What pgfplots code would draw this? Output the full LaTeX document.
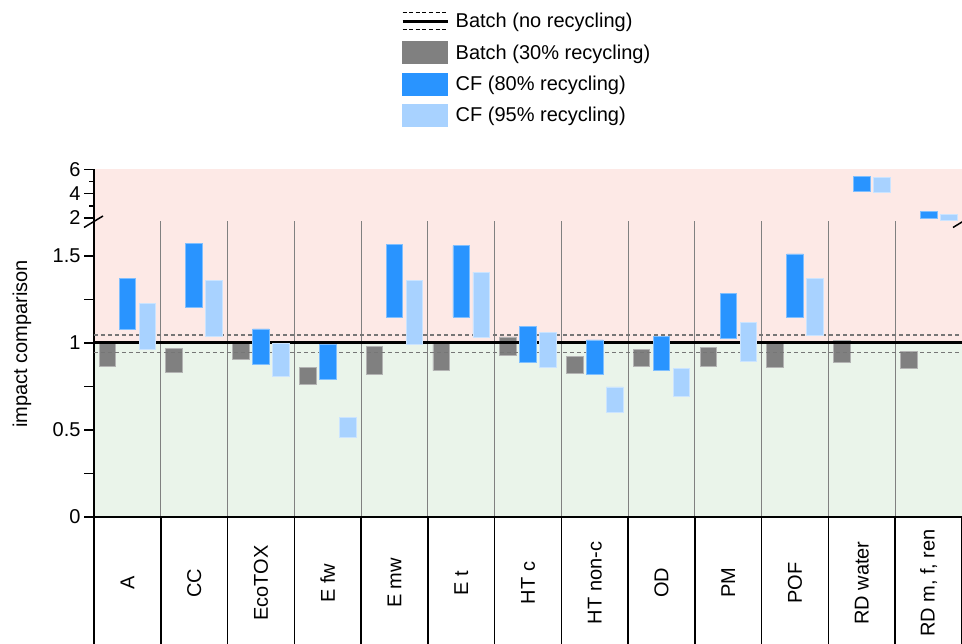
\documentclass[border=0pt]{standalone}
\usepackage{pgfplots}
\pgfplotsset{compat=1.18}
\usepackage{pgfplotstable}
\usepackage{fontspec}
\setmainfont{Liberation Sans}
\definecolor{cgray}{RGB}{128,128,128}
\definecolor{cdash}{RGB}{118,118,118}
\definecolor{cblue}{RGB}{41,148,255}
\definecolor{clight}{RGB}{168,210,255}
\definecolor{bgred}{RGB}{253,233,230}
\definecolor{bggreen}{RGB}{234,244,234}
\newcommand{\fs}{\fontsize{20}{23}\selectfont}

\pgfplotstableread{
x lo hi
0 0.866 0.995
1 0.829 0.967
2 0.906 1.010
3 0.759 0.858
4 0.818 0.979
5 0.841 0.998
6 0.929 1.034
7 0.824 0.921
8 0.864 0.962
9 0.864 0.975
10 0.858 1.000
11 0.887 1.015
12 0.856 0.950
}\graydata
\pgfplotstableread{
x lo hi
0 1.075 1.372
1 1.201 1.573
2 0.877 1.080
3 0.791 0.990
4 1.149 1.565
5 1.149 1.559
6 0.887 1.092
7 0.820 1.017
8 0.843 1.038
9 1.025 1.282
10 1.148 1.511
}\bluedata
\pgfplotstableread{
x lo hi
0 0.964 1.228
1 1.036 1.356
2 0.810 0.998
3 0.456 0.571
4 0.994 1.356
5 1.034 1.406
6 0.860 1.059
7 0.602 0.747
8 0.694 0.854
9 0.891 1.117
10 1.042 1.372
}\lightdata
\pgfplotstableread{
x lo hi
11 4.22 5.39
12 2.00 2.53
}\blueup
\pgfplotstableread{
x lo hi
11 4.14 5.31
12 1.83 2.31
}\lightup

\pgfplotsset{
  geom/.style={
    scale only axis, width=868pt, xmin=-0.5, xmax=12.5,
    ybar stacked, bar width=16.6pt, anchor=south west,
  },
  lowergeom/.style={geom, at={(0pt,0pt)}, height=296pt, ymin=0, ymax=1.70},
  uppergeom/.style={geom, at={(0pt,296pt)}, height=51.5pt, ymin=1.75, ymax=6},
  base/.style={
    /pgf/number format/assume math mode=true,
    tick label style={font=\fs},
    tick align=outside,
    major tick length=10pt,
    every tick/.style={black, line width=1.5pt},
    xtick style={draw=none},
    minor xtick={0.5,1.5,...,11.5},
    minor x tick style={draw=none},
    xminorgrids,
    minor grid style={draw=cgray, line width=0.9pt},
    axis line style={-, black, line width=1.6pt},
  },
  inv/.style={draw=none, fill=none, forget plot},
  gbar/.style={fill=cgray, draw=cgray!60!white, line width=0.8pt, bar shift=-20pt, forget plot},
  bbar/.style={fill=cblue, draw=cblue!60!white, line width=0.8pt, bar shift=0pt, forget plot},
  lbar/.style={fill=clight, draw=clight!60!white, line width=0.8pt, bar shift=20pt, forget plot},
}

\begin{document}
\begin{tikzpicture}
\useasboundingbox (-94pt,-127pt) rectangle (868pt,517pt);
% ---------- lower panel: frame + batch 30%
\begin{axis}[lowergeom, base,
  ytick={0,0.5,1,1.5},
  minor ytick={0.25,0.75,1.25},
  minor tick length=10pt,
  axis x line*=bottom, axis y line*=left,
  xtick={0,...,12},
  xticklabels={A,CC,EcoTOX,E fw,E mw,E t,HT c,HT non-c,OD,PM,POF,RD water,{RD m, f, ren}},
  xticklabel style={yshift=-56pt, rotate=90, anchor=center, font=\fs},
  ylabel={impact comparison},
  ylabel style={at={(axis description cs:-0.0829,0.5845)}, anchor=center, font=\fs},
  axis background/.style={fill=bgred, path picture={
     \fill[bggreen] (path picture bounding box.south west) rectangle
        ([yshift=174.12pt]path picture bounding box.south east);}},
]
\draw[cdash, dash pattern=on 4pt off 3pt, line width=1.1pt] (axis cs:-0.5,1.045) -- (axis cs:12.5,1.045);
\draw[cdash, dash pattern=on 4pt off 3pt, line width=1.1pt] (axis cs:-0.5,0.947) -- (axis cs:12.5,0.947);
\draw[black, line width=3.2pt] (axis cs:-0.5,1) -- (axis cs:12.5,1);
\addplot[inv, bar shift=-20pt] table[x=x, y=lo]{\graydata};
\addplot[gbar] table[x=x, y expr=\thisrow{hi}-\thisrow{lo}]{\graydata};
\end{axis}
% ---------- lower panel: CF 80%
\begin{axis}[lowergeom, hide axis]
\addplot[inv, bar shift=0pt] table[x=x, y=lo]{\bluedata};
\addplot[bbar] table[x=x, y expr=\thisrow{hi}-\thisrow{lo}]{\bluedata};
\end{axis}
% ---------- lower panel: CF 95%
\begin{axis}[lowergeom, hide axis]
\addplot[inv, bar shift=20pt] table[x=x, y=lo]{\lightdata};
\addplot[lbar] table[x=x, y expr=\thisrow{hi}-\thisrow{lo}]{\lightdata};
\end{axis}

% ---------- upper panel: frame + CF 80%
\begin{axis}[uppergeom, base,
  ytick={2,4,6},
  minor ytick={3,5},
  minor tick length=5pt,
  axis x line=none, axis y line*=left,
  xtick=\empty,
  axis background/.style={fill=bgred},
  legend cell align=left,
  legend style={at={(axis description cs:0.3537,4.091)}, anchor=north west,
    draw=none, fill=none, inner sep=0pt, outer sep=0pt,
    font=\fs, row sep=9pt,
    nodes={inner xsep=6.7pt, inner ysep=0pt}},
]
\addplot[inv, bar shift=0pt] table[x=x, y=lo]{\blueup};
\addplot[bbar] table[x=x, y expr=\thisrow{hi}-\thisrow{lo}]{\blueup};

\addlegendimage{legend image code/.code={
  \path[draw=none, fill=none] (0pt,-11pt) rectangle (45pt,11pt);
  \draw[black, line width=3pt] (0pt,0pt) -- (45pt,0pt);
  \draw[black, line width=1pt, dash pattern=on 4pt off 2.6pt] (0pt,8.5pt) -- (45pt,8.5pt);
  \draw[black, line width=1pt, dash pattern=on 4pt off 2.6pt] (0pt,-8.5pt) -- (45pt,-8.5pt);}}
\addlegendentry{Batch (no recycling)}
\addlegendimage{legend image code/.code={\fill[cgray] (0pt,-11pt) rectangle (45pt,11pt);}}
\addlegendentry{Batch (30\% recycling)}
\addlegendimage{legend image code/.code={\fill[cblue] (0pt,-11pt) rectangle (45pt,11pt);}}
\addlegendentry{CF (80\% recycling)}
\addlegendimage{legend image code/.code={\fill[clight] (0pt,-11pt) rectangle (45pt,11pt);}}
\addlegendentry{CF (95\% recycling)}
\end{axis}
% ---------- upper panel: CF 95%
\begin{axis}[uppergeom, hide axis]
\addplot[inv, bar shift=20pt] table[x=x, y=lo]{\lightup};
\addplot[lbar] table[x=x, y expr=\thisrow{hi}-\thisrow{lo}]{\lightup};
\end{axis}

% category table lines
\foreach \k in {0,...,13} {
  \draw[black, line width=1.6pt] ({\k*66.7692pt},0pt) -- ({\k*66.7692pt},-127pt);
}
% axis break marks
\draw[black, line width=1.5pt] (-10pt,289.5pt) -- (9pt,301pt);
\draw[black, line width=1.5pt] (859pt,289.5pt) -- (877pt,300.5pt);
\end{tikzpicture}
\end{document}
